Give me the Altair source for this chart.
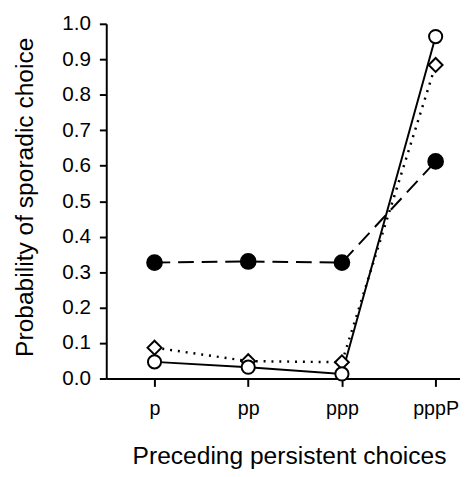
import altair as alt
import pandas as pd

categories = ["p", "pp", "ppp", "pppP"]
filled_circle = [0.327, 0.330, 0.327, 0.612]
open_circle = [0.047, 0.032, 0.013, 0.964]
open_diamond = [0.087, 0.049, 0.046, 0.884]
y_ticks = [round(i * 0.1, 1) for i in range(11)]

rows = []
for name, vals in [("filled", filled_circle), ("open", open_circle), ("diamond", open_diamond)]:
    for i, (c, v) in enumerate(zip(categories, vals)):
        rows.append({"series": name, "idx": i, "cat": c, "value": v})
df = pd.DataFrame(rows)

label_expr = "[" + ",".join("'" + c + "'" for c in categories) + "][datum.value]"
FONT = "Liberation Sans"

x = alt.X(
    "idx:Q",
    scale=alt.Scale(domain=[-0.515, 3.26], nice=False, zero=False),
    axis=alt.Axis(
        title="Preceding persistent choices",
        values=list(range(len(categories))),
        labelExpr=label_expr,
        grid=False,
        domainColor="black", domainWidth=2,
        tickColor="black", tickWidth=2, tickSize=8,
        labelFont=FONT, labelFontSize=20, labelColor="black", labelPadding=13,
        labelFlush=False,
        titleFont=FONT, titleFontSize=25, titleFontWeight="normal", titleColor="black",
        titleX=186, titleY=86, titleAlign="center", titleBaseline="alphabetic",
    ),
)
y = alt.Y(
    "value:Q",
    scale=alt.Scale(domain=[0, 1], nice=False),
    axis=alt.Axis(
        title="Probability of sporadic choice",
        values=y_ticks,
        format=".1f",
        grid=False,
        domainColor="black", domainWidth=2,
        tickColor="black", tickWidth=2, tickSize=7,
        labelFont=FONT, labelFontSize=21, labelColor="black", labelPadding=9,
        labelFlush=False,
        titleFont=FONT, titleFontSize=25, titleFontWeight="normal", titleColor="black",
        titleX=-83, titleY=176, titleAngle=-90, titleAlign="center", titleBaseline="middle",
    ),
)

base = alt.Chart(df)

line_filled = base.transform_filter("datum.series == 'filled'").mark_line(
    color="black", strokeWidth=2, strokeDash=[16, 8]).encode(x=x, y=y)
line_open = base.transform_filter("datum.series == 'open'").mark_line(
    color="black", strokeWidth=2).encode(x=x, y=y)
line_diamond = base.transform_filter("datum.series == 'diamond'").mark_line(
    color="black", strokeWidth=2.5, strokeDash=[2, 6]).encode(x=x, y=y)

pt_filled = base.transform_filter("datum.series == 'filled'").mark_point(
    shape="circle", size=225, filled=True, fill="black", stroke="black", opacity=1).encode(x=x, y=y)
pt_open = base.transform_filter("datum.series == 'open'").mark_point(
    shape="circle", size=180, filled=True, fill="white", stroke="black", strokeWidth=2, opacity=1).encode(x=x, y=y)
pt_diamond = base.transform_filter("datum.series == 'diamond'").mark_point(
    shape="diamond", size=200, filled=True, fill="white", stroke="black", strokeWidth=2, opacity=1).encode(x=x, y=y)

chart = alt.layer(
    line_diamond, line_open, line_filled, pt_diamond, pt_open, pt_filled
).properties(
    width=360, height=361,
    autosize=alt.AutoSizeParams(type="none"),
    padding={"left": 100, "top": 12, "right": 0, "bottom": 89},
    background="white",
).configure_view(stroke=None)

chart.save("out.html", embed_options={"renderer": "svg", "actions": False})
